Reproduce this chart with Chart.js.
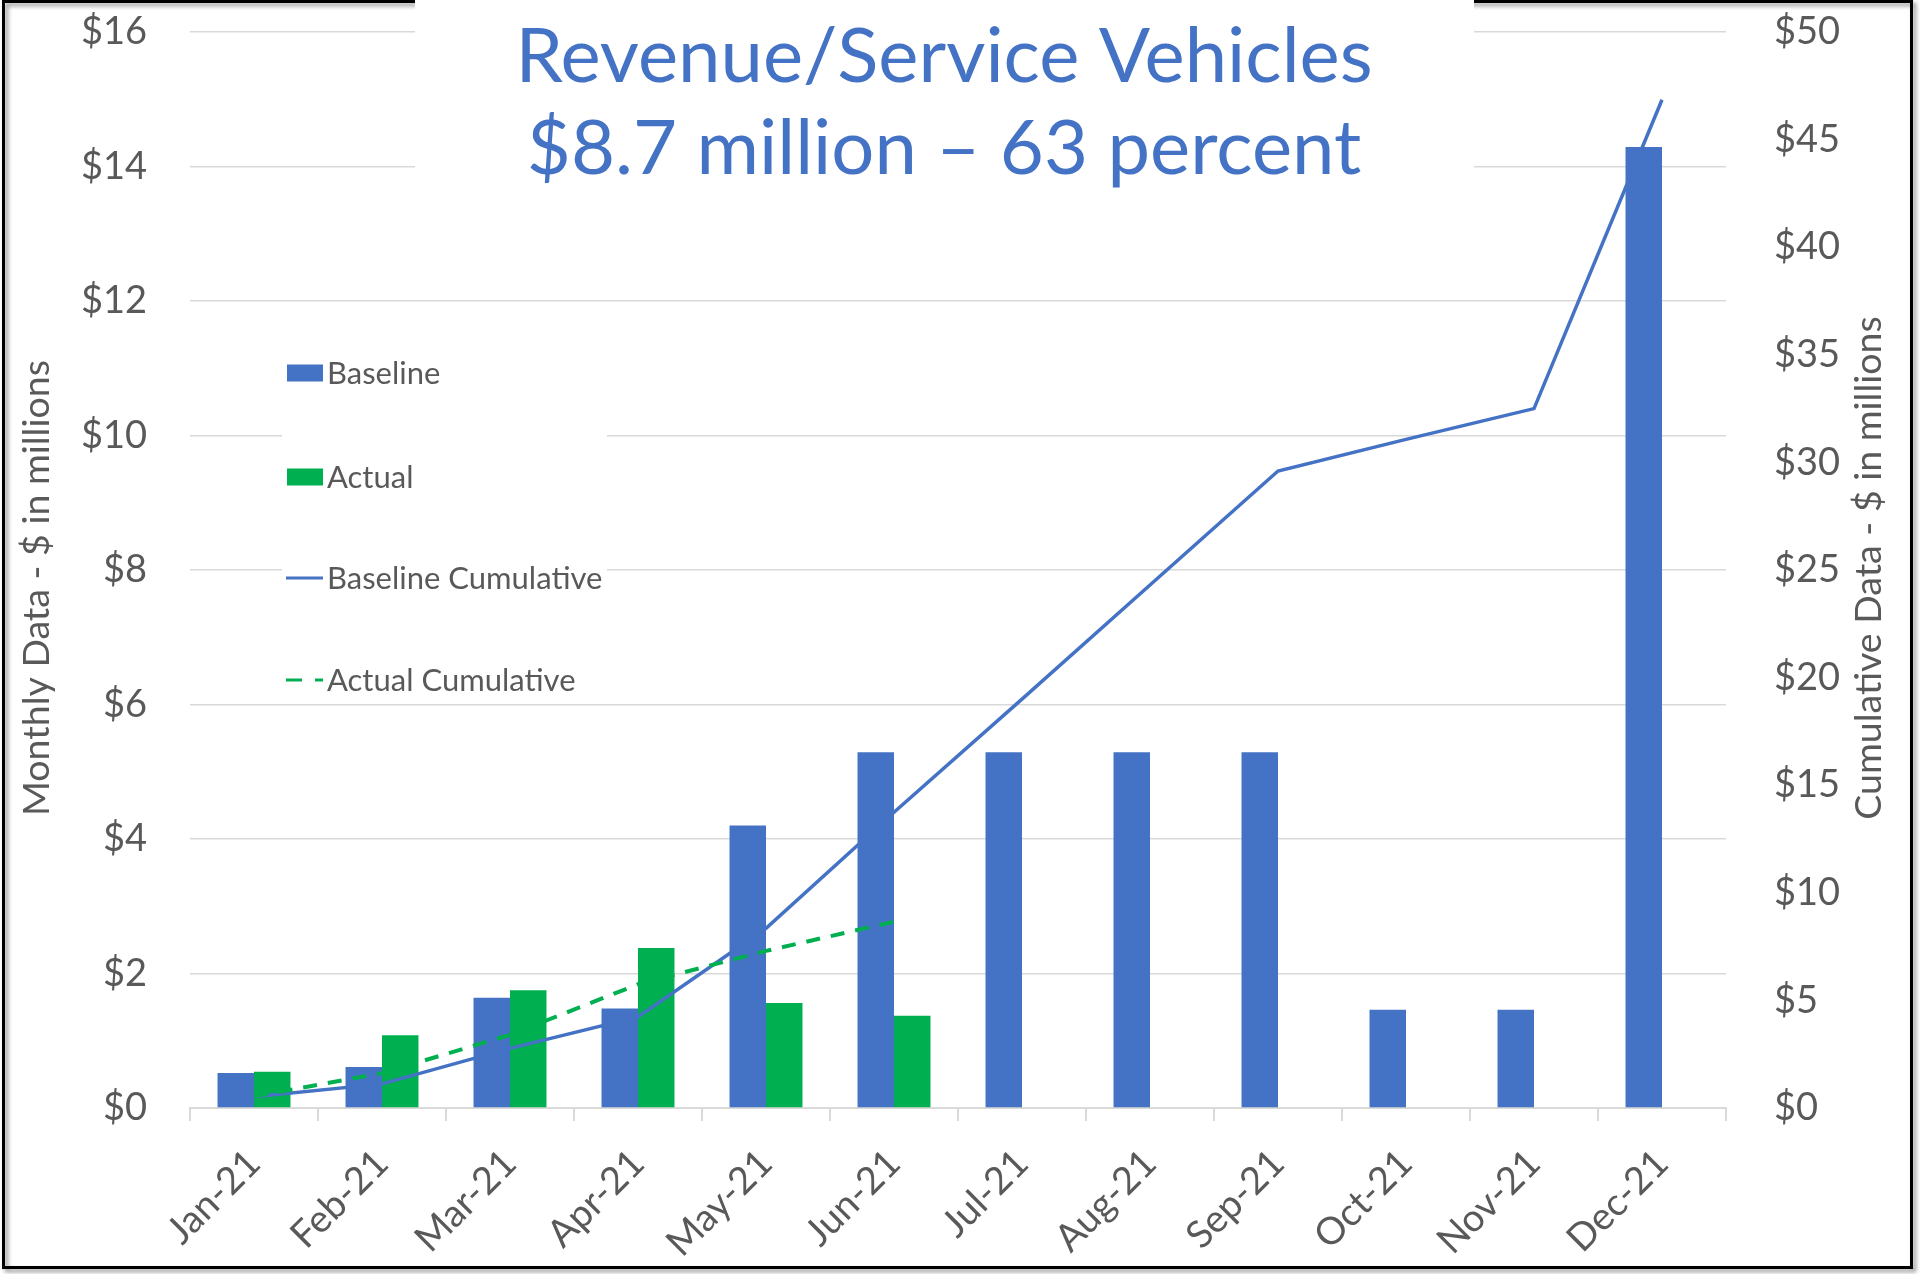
<!DOCTYPE html>
<html>
<head>
<meta charset="utf-8">
<script src="https://cdn.jsdelivr.net/npm/chart.js@4.4.1/dist/chart.umd.min.js"></script>
<style>
  html, body { margin: 0; padding: 0; background: #ffffff; }
  #wrap { position: relative; width: 1921px; height: 1274px; }
  canvas { display: block; }
</style>
</head>
<body>
<div id="wrap"><canvas id="c" width="1921" height="1274"></canvas></div>
<script>
// ---- data (values in $ millions) ----
const categories = ['Jan-21','Feb-21','Mar-21','Apr-21','May-21','Jun-21','Jul-21','Aug-21','Sep-21','Oct-21','Nov-21','Dec-21'];
const baseline = [0.52, 0.61, 1.64, 1.48, 4.20, 5.29, 5.29, 5.29, 5.29, 1.46, 1.46, 14.29];
const actual = [0.54, 1.08, 1.75, 2.38, 1.56, 1.37, null, null, null, null, null, null];
const baselineCumulative = [0.52, 1.12, 2.77, 4.23, 8.35, 13.74, 19.0, 24.3, 29.6, 31.07, 32.5, 46.85];
const actualCumulative = [0.54, 1.62, 3.40, 5.75, 7.30, 8.66, null, null, null, null, null, null];
const titleLines = ['Revenue/Service Vehicles', '$8.7 million \u2013 63 percent'];
const leftAxisTitle = 'Monthly Data - $ in millions';
const rightAxisTitle = 'Cumulative Data - $ in millions';

const BLUE = '#4472C4';
const GREEN = '#00B050';
const TEXT = '#595959';
const GRID = '#D9D9D9';
const FONT = 'Lato, Carlito, Calibri, "Open Sans", sans-serif';

const decor = {
  id: 'decor',
  beforeDraw(chart) {
    const ctx = chart.ctx;
    ctx.save();
    ctx.fillStyle = '#ffffff';
    ctx.fillRect(0, 0, chart.width, chart.height);
    ctx.shadowColor = 'rgba(0,0,0,0.45)';
    ctx.shadowBlur = 4;
    ctx.shadowOffsetX = 3;
    ctx.shadowOffsetY = 3;
    ctx.strokeStyle = '#000000';
    ctx.lineWidth = 3;
    ctx.strokeRect(3.5, 1.5, 1908, 1266);
    ctx.restore();
  },
  beforeDatasetsDraw(chart) {
    const ctx = chart.ctx;
    ctx.save();
    ctx.fillStyle = '#ffffff';
    ctx.fillRect(415, 0, 1059, 240);
    ctx.fillRect(282, 320, 325, 370);
    ctx.restore();
  },
  afterDraw(chart) {
    const ctx = chart.ctx;
    ctx.save();
    ctx.fillStyle = BLUE;
    ctx.textAlign = 'center';
    ctx.textBaseline = 'middle';
    ctx.font = '76px ' + FONT;
    ctx.fillText(titleLines[0], 944, 57);
    ctx.fillText(titleLines[1], 944, 149);

    ctx.fillStyle = TEXT;
    ctx.font = '37.5px ' + FONT;
    ctx.save();
    ctx.translate(37, 588);
    ctx.rotate(-Math.PI / 2);
    ctx.fillText(leftAxisTitle, 0, 0);
    ctx.restore();
    ctx.save();
    ctx.translate(1869, 568);
    ctx.rotate(-Math.PI / 2);
    ctx.fillText(rightAxisTitle, 0, 0);
    ctx.restore();

    const ys = [373, 477, 578, 680];
    ctx.font = '31px ' + FONT;
    ctx.textAlign = 'left';
    ctx.textBaseline = 'middle';
    chart.data.datasets.forEach((ds, i) => {
      const y = ys[i];
      if (ds.type === 'bar') {
        ctx.fillStyle = ds.backgroundColor;
        ctx.fillRect(287, y - 8.5, 36, 17);
      } else {
        ctx.strokeStyle = ds.borderColor;
        ctx.lineWidth = 3;
        ctx.setLineDash(ds.borderDash ? [16, 13] : []);
        ctx.beginPath();
        ctx.moveTo(286, y);
        ctx.lineTo(323, y);
        ctx.stroke();
        ctx.setLineDash([]);
      }
      ctx.fillStyle = TEXT;
      ctx.fillText(ds.label, 327, y + 1);
    });
    ctx.restore();
  }
};

function fixVertical(width) {
  return s => { s.width = width; s.paddingTop = 32; s.paddingBottom = 0; };
}

new Chart(document.getElementById('c'), {
  data: {
    labels: categories,
    datasets: [
      { type: 'bar', label: 'Baseline', data: baseline, backgroundColor: BLUE, yAxisID: 'y', order: 2,
        categoryPercentage: 0.57, barPercentage: 1.0 },
      { type: 'bar', label: 'Actual', data: actual, backgroundColor: GREEN, yAxisID: 'y', order: 2,
        categoryPercentage: 0.57, barPercentage: 1.0 },
      { type: 'line', label: 'Baseline Cumulative', data: baselineCumulative, borderColor: BLUE, backgroundColor: BLUE,
        borderWidth: 3.5, pointRadius: 0, tension: 0, yAxisID: 'y1', order: 1 },
      { type: 'line', label: 'Actual Cumulative', data: actualCumulative, borderColor: GREEN, backgroundColor: GREEN,
        borderWidth: 4, borderDash: [14, 11], pointRadius: 0, tension: 0, yAxisID: 'y1', order: 0, spanGaps: false }
    ]
  },
  options: {
    responsive: false,
    animation: false,
    devicePixelRatio: 1,
    layout: { padding: { top: 0, left: 0, right: 0, bottom: 0 } },
    plugins: {
      legend: { display: false },
      title: { display: false },
      tooltip: { enabled: false }
    },
    scales: {
      x: {
        type: 'category',
        offset: true,
        grid: { offset: true, drawOnChartArea: false, drawTicks: true, tickLength: 13, color: GRID, lineWidth: 2 },
        border: { display: true, color: GRID, width: 2 },
        ticks: { maxRotation: 45, minRotation: 45, color: TEXT, font: { family: FONT, size: 38 }, padding: 20 },
        afterFit: s => { s.height = 166; s.paddingLeft = 0; s.paddingRight = 0; }
      },
      y: {
        position: 'left',
        min: 0, max: 16,
        ticks: { stepSize: 2, color: TEXT, font: { family: FONT, size: 38 }, padding: 43,
          callback: v => '$' + v },
        grid: { color: GRID, lineWidth: 1.5, drawTicks: false },
        border: { display: false },
        afterFit: fixVertical(190)
      },
      y1: {
        position: 'right',
        min: 0, max: 50,
        ticks: { stepSize: 5, color: TEXT, font: { family: FONT, size: 38 }, padding: 40,
          callback: v => '$' + v },
        grid: { display: false },
        border: { display: false },
        afterFit: fixVertical(195)
      }
    }
  },
  plugins: [decor]
});
</script>
</body>
</html>
